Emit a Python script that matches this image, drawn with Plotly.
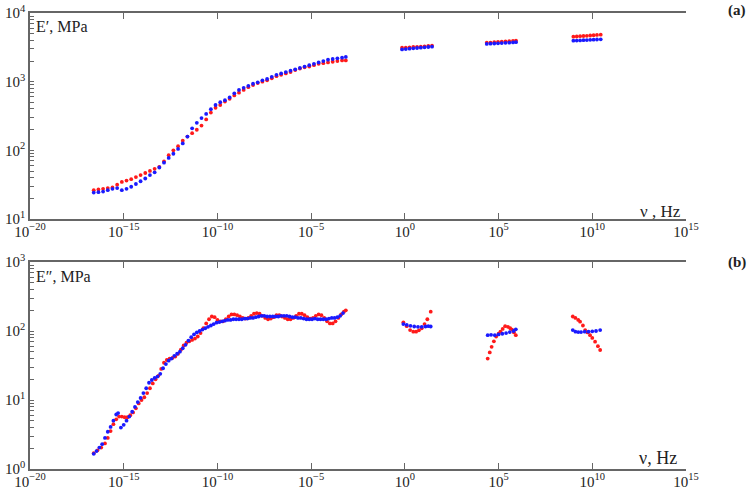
import numpy as np
import plotly.graph_objects as go

# ---------------- data (log10 of frequency in Hz, log10 of modulus in MPa) ----------------
# Panel (a): storage modulus E'
e1_red_lognu = [-16.6, -16.35, -16.1, -15.85, -15.6, -15.35, -15.1, -14.85, -14.6, -14.35, -14.1, -13.85,
                -13.6, -13.35, -13.1, -12.85, -12.6, -12.35, -12.1, -11.85, -11.6, -11.35, -11.1, -10.85,
                -10.6, -10.35, -10.1, -9.85, -9.6, -9.35, -9.1, -8.85, -8.6, -8.35, -8.1, -7.85, -7.6,
                -7.35, -7.1, -6.85, -6.6, -6.35, -6.1, -5.85, -5.6, -5.35, -5.1, -4.85, -4.6, -4.35,
                -4.1, -3.85, -3.6, -3.35, -3.15,
                -0.15, 0.05, 0.25, 0.45, 0.65, 0.85, 1.05, 1.25, 1.45,
                4.37, 4.57, 4.77, 4.97, 5.17, 5.37, 5.57, 5.77, 5.93,
                8.99, 9.17, 9.35, 9.53, 9.71, 9.89, 10.07, 10.25, 10.45]
e1_red_logE = [1.42, 1.43, 1.44, 1.45, 1.46, 1.50, 1.54, 1.56, 1.58, 1.61, 1.64, 1.67,
               1.70, 1.73, 1.76, 1.84, 1.93, 2.00, 2.06, 2.14, 2.20, 2.25, 2.30, 2.36,
               2.45, 2.55, 2.62, 2.66, 2.71, 2.75, 2.80, 2.84, 2.88, 2.92, 2.95, 2.98, 3.00,
               3.02, 3.05, 3.08, 3.10, 3.12, 3.14, 3.17, 3.19, 3.21, 3.22, 3.24, 3.26, 3.27,
               3.28, 3.29, 3.30, 3.31, 3.31,
               3.495, 3.497, 3.50, 3.505, 3.507, 3.51, 3.515, 3.52, 3.524,
               3.568, 3.57, 3.575, 3.58, 3.583, 3.587, 3.59, 3.595, 3.597,
               3.655, 3.658, 3.662, 3.665, 3.668, 3.672, 3.676, 3.68, 3.684]

e1_blue_lognu = [-16.6, -16.35, -16.1, -15.85, -15.6, -15.35, -15.1, -14.85, -14.6, -14.35, -14.1, -13.85,
                 -13.6, -13.35, -13.1, -12.85, -12.6, -12.35, -12.1, -11.85, -11.6, -11.35, -11.1, -10.85,
                 -10.6, -10.35, -10.1, -9.85, -9.6, -9.35, -9.1, -8.85, -8.6, -8.35, -8.1, -7.85, -7.6,
                 -7.35, -7.1, -6.85, -6.6, -6.35, -6.1, -5.85, -5.6, -5.35, -5.1, -4.85, -4.6, -4.35,
                 -4.1, -3.85, -3.6, -3.35, -3.15,
                 -0.15, 0.05, 0.25, 0.45, 0.65, 0.85, 1.05, 1.25, 1.45,
                 4.37, 4.57, 4.77, 4.97, 5.17, 5.37, 5.57, 5.77, 5.93,
                 8.99, 9.17, 9.35, 9.53, 9.71, 9.89, 10.07, 10.25, 10.45]
e1_blue_logE = [1.385, 1.39, 1.40, 1.42, 1.44, 1.45, 1.42, 1.44, 1.47, 1.51, 1.55, 1.59,
                1.64, 1.68, 1.75, 1.82, 1.89, 1.95, 2.02, 2.10, 2.20, 2.32, 2.40, 2.47,
                2.53, 2.60, 2.66, 2.70, 2.73, 2.77, 2.83, 2.88, 2.91, 2.94, 2.97, 2.99, 3.02,
                3.04, 3.07, 3.10, 3.12, 3.14, 3.16, 3.18, 3.20, 3.22, 3.24, 3.26, 3.28, 3.30,
                3.32, 3.33, 3.34, 3.35, 3.36,
                3.47, 3.475, 3.48, 3.485, 3.49, 3.495, 3.50, 3.505, 3.51,
                3.55, 3.553, 3.556, 3.559, 3.562, 3.565, 3.568, 3.572, 3.575,
                3.597, 3.599, 3.601, 3.604, 3.606, 3.609, 3.611, 3.614, 3.617]

# Panel (b): loss modulus E''
e2_red_lognu = [-16.6, -16.4, -16.2, -16.0, -15.85, -15.7, -15.55, -15.4, -15.25, -15.1, -14.95, -14.8,
                -14.65, -14.5, -14.35, -14.2, -14.05, -13.9, -13.75, -13.6, -13.45, -13.3, -13.15, -13.0,
                -12.85, -12.7, -12.55, -12.4, -12.25, -12.1, -11.95, -11.8, -11.65, -11.5, -11.35, -11.2,
                -11.05, -10.9, -10.75, -10.6, -10.45, -10.3, -10.15, -10.0, -9.85, -9.7, -9.55, -9.4,
                -9.25, -9.1, -8.95, -8.8, -8.65, -8.5, -8.35, -8.2, -8.05, -7.9, -7.75, -7.6, -7.45,
                -7.3, -7.15, -7.0, -6.85, -6.7, -6.55, -6.4, -6.25, -6.1, -5.95, -5.8, -5.65, -5.5,
                -5.35, -5.2, -5.05, -4.9, -4.75, -4.6, -4.45, -4.3, -4.15, -4.0, -3.85, -3.7, -3.55,
                -3.4, -3.25, -3.15,
                -0.08, 0.1, 0.28, 0.45, 0.6, 0.75, 0.9, 1.05, 1.2, 1.38,
                4.42, 4.53, 4.63, 4.75, 4.87, 5.0, 5.1, 5.22, 5.35, 5.5, 5.62, 5.72, 5.82, 5.92,
                8.96, 9.1, 9.25, 9.35, 9.5, 9.62, 9.75, 9.88, 10.0, 10.15, 10.3, 10.42]
e2_red_logE = [0.23, 0.27, 0.31, 0.37, 0.45, 0.55, 0.65, 0.72, 0.76, 0.76, 0.75, 0.75,
               0.78, 0.82, 0.88, 0.95, 1.00, 1.04, 1.10, 1.17, 1.24, 1.30, 1.35, 1.45,
               1.54, 1.58, 1.60, 1.61, 1.63, 1.67, 1.73, 1.79, 1.83, 1.85, 1.87, 1.89,
               1.92, 1.97, 2.04, 2.11, 2.17, 2.21, 2.20, 2.16, 2.14, 2.14, 2.17, 2.21,
               2.24, 2.24, 2.23, 2.21, 2.19, 2.18, 2.19, 2.22, 2.25, 2.26, 2.25, 2.22, 2.19,
               2.17, 2.18, 2.20, 2.23, 2.23, 2.21, 2.19, 2.17, 2.17, 2.19, 2.22, 2.25, 2.25,
               2.23, 2.20, 2.18, 2.19, 2.22, 2.24, 2.23, 2.19, 2.14, 2.11, 2.11, 2.14, 2.19,
               2.24, 2.28, 2.30,
               2.126, 2.07, 2.014, 1.99, 1.99, 2.01, 2.04, 2.10, 2.17, 2.28,
               1.60, 1.69, 1.77, 1.85, 1.92, 1.96, 1.99, 2.03, 2.07, 2.06, 2.04, 2.02, 1.98, 1.94,
               2.21, 2.19, 2.16, 2.135, 2.08, 2.014, 1.98, 1.94, 1.90, 1.845, 1.78, 1.725]

e2_blue_lognu = [-16.6, -16.45, -16.3, -16.15, -16.0, -15.85, -15.7, -15.55, -15.4, -15.3, -15.15, -15.0,
                 -14.85, -14.7, -14.55, -14.4, -14.25, -14.1, -13.95, -13.8, -13.65, -13.5, -13.35,
                 -13.2, -13.05, -12.9, -12.75, -12.6, -12.45, -12.3, -12.15, -12.0, -11.85, -11.7,
                 -11.55, -11.4, -11.25, -11.1, -10.95, -10.8, -10.65, -10.5, -10.35, -10.2, -10.05,
                 -9.9, -9.75, -9.6, -9.45, -9.3, -9.15, -9.0, -8.85, -8.7, -8.55, -8.4, -8.25, -8.1,
                 -7.95, -7.8, -7.65, -7.5, -7.35, -7.2, -7.05, -6.9, -6.75, -6.6, -6.45, -6.3, -6.15,
                 -6.0, -5.85, -5.7, -5.55, -5.4, -5.25, -5.1, -4.95, -4.8, -4.65, -4.5, -4.35, -4.2,
                 -4.05, -3.9, -3.75, -3.6, -3.45, -3.3,
                 -0.08, 0.1, 0.3, 0.5, 0.7, 0.9, 1.1, 1.25, 1.38,
                 4.42, 4.6, 4.8, 5.0, 5.2, 5.4, 5.6, 5.8, 5.92,
                 8.96, 9.1, 9.25, 9.4, 9.6, 9.8, 10.0, 10.2, 10.42]
e2_blue_logE = [0.22, 0.26, 0.31, 0.36, 0.45, 0.54, 0.61, 0.70, 0.79, 0.81, 0.60, 0.64,
                0.70, 0.76, 0.83, 0.90, 0.97, 1.03, 1.10, 1.17, 1.25, 1.29, 1.32,
                1.34, 1.38, 1.46, 1.52, 1.57, 1.60, 1.64, 1.67, 1.70, 1.75, 1.80,
                1.86, 1.91, 1.95, 1.98, 2.00, 2.02, 2.04, 2.06, 2.08, 2.10, 2.12,
                2.13, 2.14, 2.15, 2.16, 2.16, 2.17, 2.17, 2.17, 2.17, 2.18, 2.18, 2.19, 2.19,
                2.20, 2.21, 2.22, 2.22, 2.21, 2.21, 2.21, 2.21, 2.21, 2.22, 2.22, 2.22, 2.21,
                2.20, 2.20, 2.19, 2.19, 2.18, 2.17, 2.17, 2.17, 2.18, 2.17, 2.17, 2.17, 2.17,
                2.18, 2.19, 2.19, 2.20, 2.22, 2.26,
                2.10, 2.09, 2.075, 2.065, 2.06, 2.06, 2.065, 2.07, 2.065,
                1.94, 1.945, 1.94, 1.95, 1.96, 1.97, 1.985, 2.0, 2.025,
                2.014, 1.99, 1.985, 1.985, 1.99, 1.99, 1.995, 2.0, 2.014]

x_tick_exps = [-20, -15, -10, -5, 0, 5, 10, 15]
y1_tick_exps = [1, 2, 3, 4]
y2_tick_exps = [0, 1, 2, 3]

# ---------------- figure ----------------
W, H = 754, 490
RED = "#ff1a1a"
BLUE = "#1a1aff"
FONT = "Liberation Serif"
AXC = "#666666"

fig = go.Figure()

def pw(a):
    return np.power(10.0, np.array(a, dtype=float))

def add(xs, ys, color, xa, ya):
    fig.add_trace(go.Scatter(x=pw(xs), y=pw(ys), mode="markers",
                             marker=dict(color=color, size=3.8, symbol="circle", line=dict(width=0)),
                             xaxis=xa, yaxis=ya, showlegend=False, hoverinfo="skip"))

add(e1_red_lognu, e1_red_logE, RED, "x", "y")
add(e1_blue_lognu, e1_blue_logE, BLUE, "x", "y")
add(e2_red_lognu, e2_red_logE, RED, "x2", "y2")
add(e2_blue_lognu, e2_blue_logE, BLUE, "x2", "y2")

def sup(n):
    s = str(n).replace("-", "\u2212")
    return "10<sup>" + s + "</sup>"

xdom = [30 / W, 686 / W]
xcommon = dict(type="log", range=[-20, 15], tickmode="array",
               tickvals=[10.0 ** e for e in x_tick_exps],
               ticktext=[sup(e) for e in x_tick_exps],
               ticks="inside", ticklen=6, tickwidth=1, tickcolor=AXC,
               showline=True, linecolor=AXC, linewidth=1.5, mirror="ticks",
               showgrid=False, zeroline=False, automargin=False,
               ticklabelstandoff=-2,
               tickfont=dict(family=FONT, size=15, color="#222"))

def ycommon(exps, labels=True, side="left"):
    vals, texts = [], []
    for i, e in enumerate(exps):
        vals.append(10.0 ** e)
        texts.append(sup(e))
        if i < len(exps) - 1:
            for m in range(2, 10):
                vals.append(m * 10.0 ** e)
                texts.append("")
    return dict(type="log", range=[exps[0], exps[-1]], tickmode="array",
                tickvals=vals, ticktext=texts,
                showticklabels=labels, side=side,
                ticks="inside", ticklen=4, tickwidth=1, tickcolor=AXC,
                showline=True, linecolor=AXC, linewidth=1.5,
                showgrid=False, zeroline=False, automargin=False,
                tickfont=dict(family=FONT, size=15, color="#222"))

y1dom = [1 - 219 / H, 1 - 13 / H]
y2dom = [1 - 469 / H, 1 - 262 / H]
fig.update_layout(
    width=W, height=H,
    margin=dict(l=0, r=0, t=0, b=0),
    paper_bgcolor="white", plot_bgcolor="white",
    xaxis=dict(domain=xdom, anchor="y", **xcommon),
    yaxis=dict(domain=y1dom, anchor="x", **ycommon(y1_tick_exps)),
    xaxis2=dict(domain=xdom, anchor="y2", **xcommon),
    yaxis2=dict(domain=y2dom, anchor="x2", **ycommon(y2_tick_exps)),
    yaxis3=dict(domain=y1dom, anchor="x", overlaying="y", **ycommon(y1_tick_exps, False, "right")),
    yaxis4=dict(domain=y2dom, anchor="x2", overlaying="y2", **ycommon(y2_tick_exps, False, "right")),
)

def note(text, px, py, size=15, xanchor="left", bold=False):
    fig.add_annotation(text=("<b>" + text + "</b>") if bold else text,
                       x=px / W, y=1 - py / H, xref="paper", yref="paper",
                       xanchor=xanchor, yanchor="middle", showarrow=False,
                       font=dict(family=FONT, size=size, color="#222"))

note("E\u2032, MPa", 34, 27, size=16)
note("E\u2033, MPa", 34, 276, size=16)
note("\u03bd , Hz", 683, 211, size=17, xanchor="right")
note("\u03bd, Hz", 679, 458, size=18, xanchor="right")
note("(a)", 748, 10, size=15, xanchor="right", bold=True)
note("(b)", 748, 262, size=15, xanchor="right", bold=True)

fig.write_html("out.html")
